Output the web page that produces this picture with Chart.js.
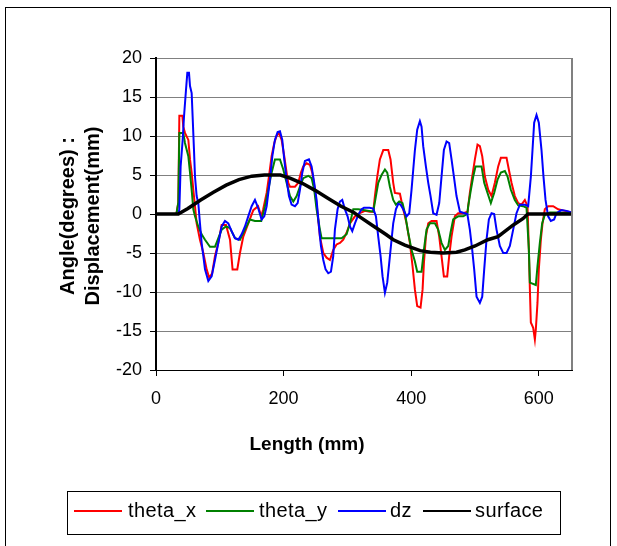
<!DOCTYPE html>
<html>
<head>
<meta charset="utf-8">
<script src="https://cdn.jsdelivr.net/npm/chart.js@4.4.0/dist/chart.umd.min.js"></script>
<style>
  html, body { margin: 0; padding: 0; background: #fff; }
  #wrap { position: relative; width: 617px; height: 546px; overflow: hidden; font-family: "Liberation Sans", Arial, sans-serif; }
  #frame { position: absolute; left: 5px; top: 7px; width: 606px; height: 560px; border: 1px solid #000; box-sizing: border-box; }
  canvas { position: absolute; left: 0; top: 0; }
  .ytitle { position: absolute; left: 80px; top: 216px; width: 260px; transform: translate(-50%, -50%) rotate(-90deg);
            text-align: center; font-weight: bold; font-size: 20px; line-height: 25px; white-space: nowrap; }
  #xtitle { position: absolute; left: 307px; top: 434px; transform: translateX(-50%); font-weight: bold; font-size: 19px; line-height: 19px; white-space: nowrap; }
  #legend { position: absolute; left: 67px; top: 491px; width: 494px; height: 44px; border: 1px solid #000; box-sizing: border-box; }
  .swatch { position: absolute; top: 18px; width: 48px; height: 2px; }
  .lab { position: absolute; top: 6px; font-size: 20px; line-height: 24px; letter-spacing: 0.4px; white-space: nowrap; }
</style>
</head>
<body>
<div id="wrap">
  <div id="frame"></div>
  <canvas id="chart" width="617" height="546"></canvas>
  <div class="ytitle">Angle(degrees) :<br>Displacement(mm)</div>
  <div id="xtitle">Length (mm)</div>
  <div id="legend">
    <div class="swatch" style="left:6px;background:#ff0000"></div><span class="lab" style="left:60px">theta_x</span>
    <div class="swatch" style="left:138px;background:#008000"></div><span class="lab" style="left:191px">theta_y</span>
    <div class="swatch" style="left:270px;background:#0000ff"></div><span class="lab" style="left:322px">dz</span>
    <div class="swatch" style="left:355px;background:#000000"></div><span class="lab" style="left:407px">surface</span>
  </div>
</div>
<script>
// valeurs (longueur en mm, valeur en deg / mm)
const thetaXLen = [0, 32, 35, 36.6, 41.3, 42.8, 45.4, 50.7, 53.3, 55.9, 58.5, 61.1, 63.7, 68.9, 74.2, 79.4, 83.6, 88, 92.4, 97.7,
  102.9, 109.7, 116, 120, 127.4, 131.6, 136.8, 144.6, 152.5, 160, 165, 168, 173.4, 177, 181.2, 185.4, 189, 192.7, 196.9, 201,
  204.7, 207.3, 210, 217.8, 223, 227.2, 230.8, 236, 241.3, 244.9, 249.1, 253.3, 256.9, 262.2, 267.4, 272.6, 277.8, 283, 288.3, 293.5,
  298.7, 304, 311.8, 319.6, 327.4, 335, 340.5, 343.1, 346.8, 350.9, 356.2, 364, 367.6, 371.8, 374.4, 382.3, 386.4, 392.7, 397.9, 402.1,
  405.8, 409.4, 414.6, 417.8, 419.9, 423, 426.7, 431.9, 439.7, 443.9, 447.5, 451.2, 456.4, 459.5, 463.2, 468.4, 473.6, 481.5, 488.3, 491.9,
  495.6, 499.8, 503.9, 507.6, 511.3, 515.4, 520.7, 525.9, 531.1, 536.3, 540.5, 549.4, 553, 557.2, 562.4, 567.7, 572.9, 578.1, 582.3, 584.4,
  586, 587.5, 591.2, 593.8, 595.3, 597.9, 600, 603.2, 605.8, 609.4, 614.6, 622.5, 630.3, 640.8, 652];
const thetaXVal = [0, 0, 1.5, 12.6, 12.6, 11.2, 10.4, 9.5, 7, 5.3, 3.1, 1, -1.2, -3.3, -5, -7.1, -8.2, -7.6, -5.4, -3.7,
  -1.4, -1.4, -3.3, -7.1, -7.1, -5, -2.9, -1.2, 0.5, 1, -0.3, 0.6, 2.7, 4.8, 7.4, 9.1, 10, 10.4, 9.5, 7.4,
  5.3, 4, 3.5, 3.5, 4, 5.3, 6.1, 6.5, 6.3, 5.3, 3.1, 0.1, -2.9, -5, -5.6, -5.9, -4.6, -3.9, -3.7, -3.3,
  -2.4, -1.2, -0.3, 0.1, 0.4, 0.3, 0.3, 2.3, 4.8, 7, 8.2, 8.2, 7, 4, 2.7, 2.6, 1, -1.2, -3.7, -6.7,
  -9.7, -11.8, -12, -9.7, -6.3, -2.9, -1.2, -0.9, -0.9, -2.9, -5.4, -8, -8, -5.4, -2.9, -0.3, 0.1, 0.1, 0.3, 2.7,
  4.8, 7, 8.9, 8.7, 7.4, 4.8, 3.1, 2.3, 4, 6.1, 7.2, 7.2, 5.7, 4, 2.3, 1.4, 1.2, 1.8, 1, -4.6,
  -9.7, -13.9, -14.6, -16.1, -14.8, -11.4, -7.1, -3.3, -1.2, 0.6, 1, 1, 0.6, 0.4, 0.2];

const thetaYLen = [0, 32, 35, 36.6, 42.8, 45.4, 50.7, 53.3, 55.9, 58.5, 61.1, 66.3, 71.5, 76.8, 84.6, 92.4, 97.7, 102.9, 109.7, 116,
  123.8, 131.6, 139.4, 147.2, 155, 165, 170.8, 176, 181.2, 186.4, 194.3, 199.5, 204.7, 210, 215.2, 220.4, 225.6, 230.8, 238.7, 243.9,
  248, 251.7, 256.9, 259.5, 275.2, 290.9, 298.7, 304, 309.2, 317, 325, 340.5, 344.7, 348.3, 353.5, 358.8, 362.4, 366.6, 371.8, 376,
  381.2, 386.4, 390.1, 395.3, 400.5, 405.8, 409.4, 416.2, 419.9, 424, 429.3, 437.1, 442.3, 447.5, 452.8, 458, 461.6, 465.8, 473.6, 481.5,
  488, 489.3, 493.5, 497.2, 500.8, 510.2, 514.4, 519.6, 524.8, 530, 535.3, 540.5, 546.8, 551, 556.2, 562.4, 567.7, 575.5, 580.7, 584.4,
  586, 595.3, 597.9, 601.6, 605.2, 609.4, 617.3, 630.3, 652];
const thetaYVal = [0, 0, 1.5, 10.4, 10.4, 9.1, 7.4, 5.3, 3.1, 0.6, -0.3, -1.6, -2.6, -3.3, -4.2, -4.2, -3.1, -2, -1.6, -1.8,
  -3.1, -3.3, -2, -0.7, -0.9, -0.9, 1, 3.1, 5.3, 7, 7, 5.7, 4, 2.3, 1.6, 2.3, 3.5, 4.6, 4.9, 4.6,
  3.1, 0.6, -2, -3.1, -3.1, -3.1, -2.6, -1.2, 0.6, 0.6, 0.5, 0.3, 2.3, 4, 5, 5.7, 5.3, 3.5, 1.8, 1.2,
  1.6, 1.4, 0.1, -2.4, -4.6, -6.1, -7.4, -7.4, -4.6, -2, -1.2, -1.2, -2, -3.7, -4.6, -4.1, -2.4, -0.7, -0.3, -0.3,
  0, 1, 3.1, 4.8, 6.1, 6.1, 4, 2.7, 1.4, 2.7, 4.4, 5.3, 5.5, 4.8, 3.1, 1.8, 1.1, 1, 0.8, -4.6,
  -8.8, -9.1, -6.7, -3.7, -1.2, -0.1, 0.2, 0.2, 0.1];

const dzLen = [0, 35, 36.6, 38.6, 41.8, 43.9, 47, 49.1, 51.7, 53.3, 55.9, 57.4, 59.5, 61.1, 63.7, 66.3, 68.9, 71.5, 74.2, 76.8,
  82, 87.2, 92.4, 97.7, 102.9, 108.1, 113.3, 118.5, 123.8, 129, 134.2, 139.4, 144.6, 149.9, 155.1, 160, 165.5, 169.7, 173.4, 178.6,
  182.3, 186.4, 190.6, 194.3, 197.9, 201, 204.7, 208.4, 212.5, 217.8, 222, 225.6, 229.3, 233.4, 239.7, 243.9, 248, 251.7, 255.4, 258.5,
  262.2, 265.8, 270, 274.2, 277.8, 280.4, 284.6, 288.3, 291.9, 296.1, 300.3, 304, 307.6, 311.8, 317, 322.2, 326, 334.7, 340.5, 344.7,
  348.3, 352, 355.1, 358.8, 362.4, 365.5, 369.2, 371.8, 376, 379.7, 383.3, 387.5, 392.7, 396.9, 400.5, 403.2, 405.8, 409.4, 413.6, 416.2,
  418.8, 423, 426.7, 430.3, 434.5, 439.7, 443.9, 447.5, 451.2, 455.4, 459.5, 463.2, 466.9, 471, 476.3, 484, 488, 491.9, 495.6, 498.7,
  502.4, 507.6, 511.3, 514.4, 518, 521.7, 525.9, 530, 533.7, 538.9, 544.2, 549.4, 554.6, 559.8, 565, 570.3, 578.1, 583.3, 587.5, 590.1,
  592.7, 596.4, 600, 604.2, 607.3, 610.5, 614.6, 618.8, 624, 627.7, 635.5, 643.4, 652];
const dzVal = [0, 0, 0.6, 6.1, 9.5, 12.5, 15.9, 18.1, 18.1, 16.4, 15.5, 12.5, 8.3, 4.8, 2.3, 1.4, -1.2, -3.7, -5.4, -7.1,
  -8.6, -8, -5.9, -3.7, -1.6, -0.9, -1.2, -2.2, -3.1, -3.3, -2.6, -1.6, -0.3, 1, 1.8, 0.8, -0.7, -0.3, 1, 4.4,
  7.4, 9.5, 10.5, 10.6, 9.5, 7, 4.4, 2.3, 1.2, 1, 1.4, 3.1, 5.3, 6.8, 7, 6.1, 4, 1.8, -1.6, -4.1,
  -5.9, -7.1, -7.6, -7.4, -5.4, -2, 0.6, 1.6, 1.8, 0.6, -0.3, -1.6, -2.2, -1.2, -0.1, 0.6, 0.8, 0.8, 0.7, -0.3,
  -2.9, -5.4, -8, -10.1, -8.8, -6.3, -3.3, -1.2, 0.6, 1.3, 1.2, 0.6, -0.3, 0.1, 3.1, 5.7, 8.2, 10.8, 11.9, 11.2,
  8.7, 6.1, 4, 2.3, 0.1, -0.1, 1.4, 4.8, 8.2, 9.3, 9.1, 7, 4.8, 2.3, 0.3, 0.1, 0, -2, -4.6, -7.1,
  -10.6, -11.4, -10.6, -7.1, -3.3, -0.7, 0.1, 0, -2, -4.1, -5, -5, -4.1, -2, 0.1, 1.2, 1.2, 1, 4.8, 8.2,
  11.7, 12.7, 11.7, 8.2, 4.8, 1.8, -0.3, -0.9, -0.7, 0.1, 0.5, 0.4, 0.2];

const surfLen = [0, 20, 35, 50, 70, 90, 110, 130, 150, 170, 195, 210, 230, 250, 270, 290, 310, 320, 340, 360,
  372, 390, 414, 430, 450, 471, 484, 500, 520, 536, 560, 575, 583, 600, 620, 652];
const surfVal = [0, 0, 0, 0.7, 1.8, 2.8, 3.7, 4.4, 4.85, 5, 5, 4.6, 3.9, 3.0, 2.0, 1.0, 0.2, -0.4, -1.5, -2.6,
  -3.3, -4.0, -4.7, -4.9, -5, -4.9, -4.6, -4.1, -3.3, -2.9, -1.4, -0.6, 0, 0, 0, 0];

const xTickValues = [0, 200, 400, 600];
const yTickValues = [-20, -15, -10, -5, 0, 5, 10, 15, 20];

const pts = (xs, ys) => xs.map((x, i) => ({ x: x, y: ys[i] }));

const tickFont = { family: "'Liberation Sans', Arial, sans-serif", size: 18 };

// cadre droit du tracé (gris, comme Excel)
const plotBorder = {
  id: 'plotBorder',
  afterDatasetsDraw(chart) {
    const a = chart.chartArea, ctx = chart.ctx;
    ctx.save();
    ctx.strokeStyle = '#808080';
    ctx.lineWidth = 2;
    ctx.beginPath();
    ctx.moveTo(a.right, a.top);
    ctx.lineTo(a.right, a.bottom);
    ctx.stroke();
    ctx.restore();
  }
};

new Chart(document.getElementById('chart'), {
  type: 'scatter',
  data: {
    datasets: [
      { label: 'theta_x', data: pts(thetaXLen, thetaXVal), borderColor: '#ff0000', borderWidth: 2, order: 4 },
      { label: 'theta_y', data: pts(thetaYLen, thetaYVal), borderColor: '#008000', borderWidth: 2, order: 3 },
      { label: 'dz', data: pts(dzLen, dzVal), borderColor: '#0000ff', borderWidth: 2, order: 2 },
      { label: 'surface', data: pts(surfLen, surfVal), borderColor: '#000000', borderWidth: 3.5, order: 1 }
    ].map(d => Object.assign(d, { showLine: true, pointRadius: 0, tension: 0, fill: false }))
  },
  options: {
    responsive: false,
    animation: false,
    devicePixelRatio: 1,
    layout: { padding: { left: 0, top: 58, right: 45, bottom: 0 } },
    plugins: { legend: { display: false }, tooltip: { enabled: false } },
    scales: {
      x: {
        type: 'linear', min: 0, max: 652,
        afterBuildTicks: s => { s.ticks = xTickValues.map(v => ({ value: v })); },
        afterFit: s => { s.height = 176; },
        grid: { drawOnChartArea: false, drawTicks: true, tickLength: 6, tickColor: '#000' },
        border: { color: '#000', width: 1 },
        ticks: { color: '#000', font: tickFont, padding: 12, maxRotation: 0 }
      },
      y: {
        type: 'linear', min: -20, max: 20,
        afterBuildTicks: s => { s.ticks = yTickValues.map(v => ({ value: v })); },
        afterFit: s => { s.width = 156; },
        grid: { color: '#808080', lineWidth: 1, tickLength: 6, tickColor: '#000' },
        border: { color: '#000', width: 2 },
        ticks: { color: '#000', font: tickFont, padding: 8 }
      }
    }
  },
  plugins: [plotBorder]
});
</script>
</body>
</html>
